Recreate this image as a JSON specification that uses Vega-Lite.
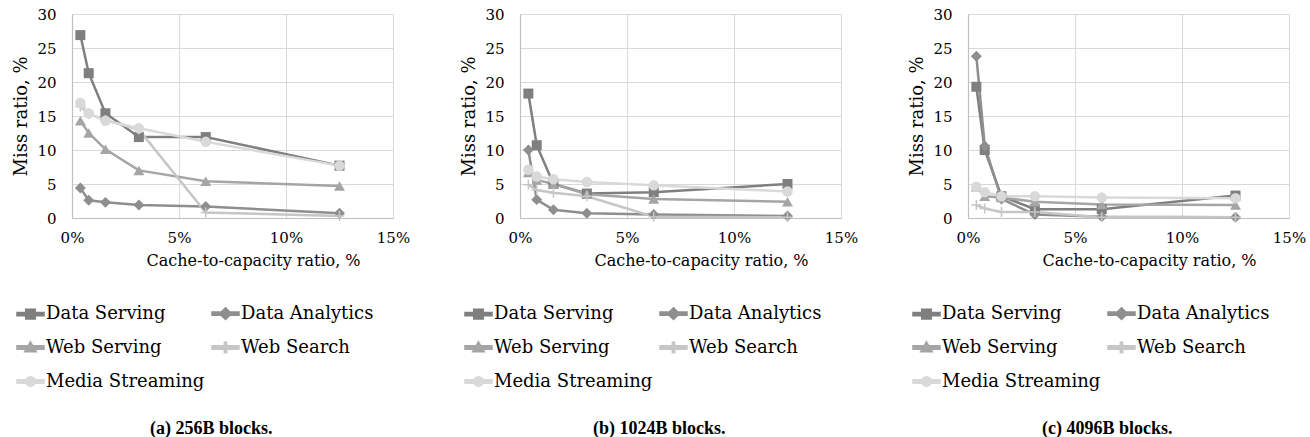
{
  "$schema": "https://vega.github.io/schema/vega-lite/v6.json",
  "background": "white",
  "padding": {"left": 12, "top": 6, "right": 5, "bottom": 2},
  "spacing": 127,
  "bounds": "flush",
  "config": {
    "view": {"stroke": "#d0d0d0", "strokeWidth": 1},
    "axis": {
      "labelFont": "DejaVu Serif", "titleFont": "DejaVu Serif",
      "labelFontSize": 15, "titleFontSize": 18, "titleFontWeight": "normal",
      "labelColor": "#000000", "titleColor": "#000000",
      "ticks": false, "domainColor": "#bfbfbf", "domainWidth": 1.2,
      "gridColor": "#d9d9d9", "gridWidth": 1, "labelFlush": false, "labelOverlap": false
    },
    "title": {"font": "Liberation Serif", "fontSize": 18, "fontWeight": "bold", "color": "#000000"},
    "legend": {
      "orient": "none", "legendX": -56, "legendY": 285, "columns": 2, "direction": "horizontal",
      "labelFont": "DejaVu Serif", "labelFontSize": 18, "labelColor": "#000000",
      "symbolSize": 676, "symbolOpacity": 1, "symbolStrokeWidth": 0.5, "rowPadding": 9, "columnPadding": 2, "labelOffset": 1, "labelLimit": 0,
      "title": null
    },
    "line": {"strokeWidth": 2.5}
  },
  "data": {"values": [
    {"panel": "a", "series": "Data Serving", "x": 0.390625, "y": 26.9},
    {"panel": "a", "series": "Data Serving", "x": 0.78125, "y": 21.3},
    {"panel": "a", "series": "Data Serving", "x": 1.5625, "y": 15.4},
    {"panel": "a", "series": "Data Serving", "x": 3.125, "y": 11.9},
    {"panel": "a", "series": "Data Serving", "x": 6.25, "y": 11.9},
    {"panel": "a", "series": "Data Serving", "x": 12.5, "y": 7.7},
    {"panel": "a", "series": "Data Analytics", "x": 0.390625, "y": 4.4},
    {"panel": "a", "series": "Data Analytics", "x": 0.78125, "y": 2.6},
    {"panel": "a", "series": "Data Analytics", "x": 1.5625, "y": 2.3},
    {"panel": "a", "series": "Data Analytics", "x": 3.125, "y": 1.9},
    {"panel": "a", "series": "Data Analytics", "x": 6.25, "y": 1.7},
    {"panel": "a", "series": "Data Analytics", "x": 12.5, "y": 0.7},
    {"panel": "a", "series": "Web Serving", "x": 0.390625, "y": 14.3},
    {"panel": "a", "series": "Web Serving", "x": 0.78125, "y": 12.5},
    {"panel": "a", "series": "Web Serving", "x": 1.5625, "y": 10.1},
    {"panel": "a", "series": "Web Serving", "x": 3.125, "y": 7.0},
    {"panel": "a", "series": "Web Serving", "x": 6.25, "y": 5.4},
    {"panel": "a", "series": "Web Serving", "x": 12.5, "y": 4.7},
    {"panel": "a", "series": "Web Search", "x": 0.390625, "y": 16.4},
    {"panel": "a", "series": "Web Search", "x": 0.78125, "y": 15.3},
    {"panel": "a", "series": "Web Search", "x": 1.5625, "y": 14.4},
    {"panel": "a", "series": "Web Search", "x": 3.125, "y": 13.0},
    {"panel": "a", "series": "Web Search", "x": 6.25, "y": 0.8},
    {"panel": "a", "series": "Web Search", "x": 12.5, "y": 0.3},
    {"panel": "a", "series": "Media Streaming", "x": 0.390625, "y": 16.9},
    {"panel": "a", "series": "Media Streaming", "x": 0.78125, "y": 15.4},
    {"panel": "a", "series": "Media Streaming", "x": 1.5625, "y": 14.3},
    {"panel": "a", "series": "Media Streaming", "x": 3.125, "y": 13.2},
    {"panel": "a", "series": "Media Streaming", "x": 6.25, "y": 11.2},
    {"panel": "a", "series": "Media Streaming", "x": 12.5, "y": 7.7},

    {"panel": "b", "series": "Data Serving", "x": 0.390625, "y": 18.3},
    {"panel": "b", "series": "Data Serving", "x": 0.78125, "y": 10.7},
    {"panel": "b", "series": "Data Serving", "x": 1.5625, "y": 5.0},
    {"panel": "b", "series": "Data Serving", "x": 3.125, "y": 3.6},
    {"panel": "b", "series": "Data Serving", "x": 6.25, "y": 3.8},
    {"panel": "b", "series": "Data Serving", "x": 12.5, "y": 5.0},
    {"panel": "b", "series": "Data Analytics", "x": 0.390625, "y": 10.0},
    {"panel": "b", "series": "Data Analytics", "x": 0.78125, "y": 2.7},
    {"panel": "b", "series": "Data Analytics", "x": 1.5625, "y": 1.2},
    {"panel": "b", "series": "Data Analytics", "x": 3.125, "y": 0.7},
    {"panel": "b", "series": "Data Analytics", "x": 6.25, "y": 0.5},
    {"panel": "b", "series": "Data Analytics", "x": 12.5, "y": 0.3},
    {"panel": "b", "series": "Web Serving", "x": 0.390625, "y": 6.7},
    {"panel": "b", "series": "Web Serving", "x": 0.78125, "y": 5.6},
    {"panel": "b", "series": "Web Serving", "x": 1.5625, "y": 5.0},
    {"panel": "b", "series": "Web Serving", "x": 3.125, "y": 3.5},
    {"panel": "b", "series": "Web Serving", "x": 6.25, "y": 2.8},
    {"panel": "b", "series": "Web Serving", "x": 12.5, "y": 2.4},
    {"panel": "b", "series": "Web Search", "x": 0.390625, "y": 4.9},
    {"panel": "b", "series": "Web Search", "x": 0.78125, "y": 4.1},
    {"panel": "b", "series": "Web Search", "x": 1.5625, "y": 3.7},
    {"panel": "b", "series": "Web Search", "x": 3.125, "y": 3.2},
    {"panel": "b", "series": "Web Search", "x": 6.25, "y": 0.2},
    {"panel": "b", "series": "Web Search", "x": 12.5, "y": 0.1},
    {"panel": "b", "series": "Media Streaming", "x": 0.390625, "y": 7.1},
    {"panel": "b", "series": "Media Streaming", "x": 0.78125, "y": 6.1},
    {"panel": "b", "series": "Media Streaming", "x": 1.5625, "y": 5.7},
    {"panel": "b", "series": "Media Streaming", "x": 3.125, "y": 5.3},
    {"panel": "b", "series": "Media Streaming", "x": 6.25, "y": 4.8},
    {"panel": "b", "series": "Media Streaming", "x": 12.5, "y": 3.9},

    {"panel": "c", "series": "Data Serving", "x": 0.390625, "y": 19.3},
    {"panel": "c", "series": "Data Serving", "x": 0.78125, "y": 10.0},
    {"panel": "c", "series": "Data Serving", "x": 1.5625, "y": 3.2},
    {"panel": "c", "series": "Data Serving", "x": 3.125, "y": 1.3},
    {"panel": "c", "series": "Data Serving", "x": 6.25, "y": 1.3},
    {"panel": "c", "series": "Data Serving", "x": 12.5, "y": 3.3},
    {"panel": "c", "series": "Data Analytics", "x": 0.390625, "y": 23.8},
    {"panel": "c", "series": "Data Analytics", "x": 0.78125, "y": 10.6},
    {"panel": "c", "series": "Data Analytics", "x": 1.5625, "y": 2.8},
    {"panel": "c", "series": "Data Analytics", "x": 3.125, "y": 0.5},
    {"panel": "c", "series": "Data Analytics", "x": 6.25, "y": 0.2},
    {"panel": "c", "series": "Data Analytics", "x": 12.5, "y": 0.1},
    {"panel": "c", "series": "Web Serving", "x": 0.390625, "y": 4.6},
    {"panel": "c", "series": "Web Serving", "x": 0.78125, "y": 3.2},
    {"panel": "c", "series": "Web Serving", "x": 1.5625, "y": 3.0},
    {"panel": "c", "series": "Web Serving", "x": 3.125, "y": 2.4},
    {"panel": "c", "series": "Web Serving", "x": 6.25, "y": 2.0},
    {"panel": "c", "series": "Web Serving", "x": 12.5, "y": 1.9},
    {"panel": "c", "series": "Web Search", "x": 0.390625, "y": 1.9},
    {"panel": "c", "series": "Web Search", "x": 0.78125, "y": 1.4},
    {"panel": "c", "series": "Web Search", "x": 1.5625, "y": 0.9},
    {"panel": "c", "series": "Web Search", "x": 3.125, "y": 0.9},
    {"panel": "c", "series": "Web Search", "x": 6.25, "y": 0.1},
    {"panel": "c", "series": "Web Search", "x": 12.5, "y": 0.1},
    {"panel": "c", "series": "Media Streaming", "x": 0.390625, "y": 4.6},
    {"panel": "c", "series": "Media Streaming", "x": 0.78125, "y": 3.8},
    {"panel": "c", "series": "Media Streaming", "x": 1.5625, "y": 3.2},
    {"panel": "c", "series": "Media Streaming", "x": 3.125, "y": 3.2},
    {"panel": "c", "series": "Media Streaming", "x": 6.25, "y": 3.0},
    {"panel": "c", "series": "Media Streaming", "x": 12.5, "y": 2.9}
  ]},
  "resolve": {
    "scale": {"color": "independent", "shape": "independent"},
    "legend": {"color": "independent", "shape": "independent"}
  },
  "hconcat": [
    {
      "width": 321, "height": 204,
      "transform": [{"filter": "datum.panel === 'a'"}],
      "title": {"text": "(a) 256B blocks.", "orient": "bottom", "frame": "bounds", "anchor": "middle", "offset": 29},
      "encoding": {
        "x": {"field": "x", "type": "quantitative", "scale": {"domain": [0, 15], "nice": false},
              "axis": {"values": [0, 5, 10, 15], "labelExpr": "datum.value + '%'", "title": "Cache-to-capacity ratio, %", "titleFontSize": 16, "labelPadding": 12, "titlePadding": 7, "titleX": 181}},
        "y": {"field": "y", "type": "quantitative", "scale": {"domain": [0, 30], "nice": false},
              "axis": {"values": [0, 5, 10, 15, 20, 25, 30], "title": "Miss ratio, %", "labelPadding": 16, "titlePadding": 6}},
        "color": {"field": "series", "type": "nominal",
          "scale": {"domain": ["Data Serving", "Data Analytics", "Web Serving", "Web Search", "Media Streaming"], "range": ["#7f7f7f", "#8e8e8e", "#a5a5a5", "#c6c6c6", "#d9d9d9"]}}
      },
      "layer": [
        {"mark": {"type": "line"}},
        {"mark": {"type": "point", "filled": true, "opacity": 1, "size": 0},
         "encoding": {
           "shape": {"field": "series", "type": "nominal",
             "scale": {"domain": ["Data Serving", "Data Analytics", "Web Serving", "Web Search", "Media Streaming"],
               "range": ["M-1,-0.09H1V0.09H-1ZM-0.33,-0.33H0.33V0.33H-0.33Z", "M-1,-0.09H1V0.09H-1ZM0,-0.4L0.4,0L0,0.4L-0.4,0Z", "M-1,-0.09H1V0.09H-1ZM0,-0.36L0.38,0.28L-0.38,0.28Z", "M-1,-0.09H1V0.09H-1ZM-0.05,-0.36H0.05V0.36H-0.05Z", "M-1,-0.09H1V0.09H-1ZM-0.33,0A0.33,0.33,0,1,1,0.33,0A0.33,0.33,0,1,1,-0.33,0Z"]}}
         }},
        {"transform": [{"filter": "datum.series === 'Data Serving'"}], "mark": {"type": "point", "shape": "square", "filled": true, "opacity": 1, "size": 100}},
        {"transform": [{"filter": "datum.series === 'Data Analytics'"}], "mark": {"type": "point", "shape": "diamond", "filled": true, "opacity": 1, "size": 120}},
        {"transform": [{"filter": "datum.series === 'Web Serving'"}], "mark": {"type": "point", "shape": "triangle-up", "filled": true, "opacity": 1, "size": 120}},
        {"transform": [{"filter": "datum.series === 'Web Search'"}], "mark": {"type": "point", "shape": "M-1,0H1M0,-1V1", "filled": false, "opacity": 1, "size": 100, "strokeWidth": 1.5}},
        {"transform": [{"filter": "datum.series === 'Media Streaming'"}], "mark": {"type": "point", "shape": "circle", "filled": true, "opacity": 1, "size": 110}}
      ]
    },
    {
      "width": 321, "height": 204,
      "transform": [{"filter": "datum.panel === 'b'"}],
      "title": {"text": "(b) 1024B blocks.", "orient": "bottom", "frame": "bounds", "anchor": "middle", "offset": 29},
      "encoding": {
        "x": {"field": "x", "type": "quantitative", "scale": {"domain": [0, 15], "nice": false},
              "axis": {"values": [0, 5, 10, 15], "labelExpr": "datum.value + '%'", "title": "Cache-to-capacity ratio, %", "titleFontSize": 16, "labelPadding": 12, "titlePadding": 7, "titleX": 181}},
        "y": {"field": "y", "type": "quantitative", "scale": {"domain": [0, 30], "nice": false},
              "axis": {"values": [0, 5, 10, 15, 20, 25, 30], "title": "Miss ratio, %", "labelPadding": 16, "titlePadding": 6}},
        "color": {"field": "series", "type": "nominal",
          "scale": {"domain": ["Data Serving", "Data Analytics", "Web Serving", "Web Search", "Media Streaming"], "range": ["#7f7f7f", "#8e8e8e", "#a5a5a5", "#c6c6c6", "#d9d9d9"]}}
      },
      "layer": [
        {"mark": {"type": "line"}},
        {"mark": {"type": "point", "filled": true, "opacity": 1, "size": 0},
         "encoding": {
           "shape": {"field": "series", "type": "nominal",
             "scale": {"domain": ["Data Serving", "Data Analytics", "Web Serving", "Web Search", "Media Streaming"],
               "range": ["M-1,-0.09H1V0.09H-1ZM-0.33,-0.33H0.33V0.33H-0.33Z", "M-1,-0.09H1V0.09H-1ZM0,-0.4L0.4,0L0,0.4L-0.4,0Z", "M-1,-0.09H1V0.09H-1ZM0,-0.36L0.38,0.28L-0.38,0.28Z", "M-1,-0.09H1V0.09H-1ZM-0.05,-0.36H0.05V0.36H-0.05Z", "M-1,-0.09H1V0.09H-1ZM-0.33,0A0.33,0.33,0,1,1,0.33,0A0.33,0.33,0,1,1,-0.33,0Z"]}}
         }},
        {"transform": [{"filter": "datum.series === 'Data Serving'"}], "mark": {"type": "point", "shape": "square", "filled": true, "opacity": 1, "size": 100}},
        {"transform": [{"filter": "datum.series === 'Data Analytics'"}], "mark": {"type": "point", "shape": "diamond", "filled": true, "opacity": 1, "size": 120}},
        {"transform": [{"filter": "datum.series === 'Web Serving'"}], "mark": {"type": "point", "shape": "triangle-up", "filled": true, "opacity": 1, "size": 120}},
        {"transform": [{"filter": "datum.series === 'Web Search'"}], "mark": {"type": "point", "shape": "M-1,0H1M0,-1V1", "filled": false, "opacity": 1, "size": 100, "strokeWidth": 1.5}},
        {"transform": [{"filter": "datum.series === 'Media Streaming'"}], "mark": {"type": "point", "shape": "circle", "filled": true, "opacity": 1, "size": 110}}
      ]
    },
    {
      "width": 321, "height": 204,
      "transform": [{"filter": "datum.panel === 'c'"}],
      "title": {"text": "(c) 4096B blocks.", "orient": "bottom", "frame": "bounds", "anchor": "middle", "offset": 29},
      "encoding": {
        "x": {"field": "x", "type": "quantitative", "scale": {"domain": [0, 15], "nice": false},
              "axis": {"values": [0, 5, 10, 15], "labelExpr": "datum.value + '%'", "title": "Cache-to-capacity ratio, %", "titleFontSize": 16, "labelPadding": 12, "titlePadding": 7, "titleX": 181}},
        "y": {"field": "y", "type": "quantitative", "scale": {"domain": [0, 30], "nice": false},
              "axis": {"values": [0, 5, 10, 15, 20, 25, 30], "title": "Miss ratio, %", "labelPadding": 16, "titlePadding": 6}},
        "color": {"field": "series", "type": "nominal",
          "scale": {"domain": ["Data Serving", "Data Analytics", "Web Serving", "Web Search", "Media Streaming"], "range": ["#7f7f7f", "#8e8e8e", "#a5a5a5", "#c6c6c6", "#d9d9d9"]}}
      },
      "layer": [
        {"mark": {"type": "line"}},
        {"mark": {"type": "point", "filled": true, "opacity": 1, "size": 0},
         "encoding": {
           "shape": {"field": "series", "type": "nominal",
             "scale": {"domain": ["Data Serving", "Data Analytics", "Web Serving", "Web Search", "Media Streaming"],
               "range": ["M-1,-0.09H1V0.09H-1ZM-0.33,-0.33H0.33V0.33H-0.33Z", "M-1,-0.09H1V0.09H-1ZM0,-0.4L0.4,0L0,0.4L-0.4,0Z", "M-1,-0.09H1V0.09H-1ZM0,-0.36L0.38,0.28L-0.38,0.28Z", "M-1,-0.09H1V0.09H-1ZM-0.05,-0.36H0.05V0.36H-0.05Z", "M-1,-0.09H1V0.09H-1ZM-0.33,0A0.33,0.33,0,1,1,0.33,0A0.33,0.33,0,1,1,-0.33,0Z"]}}
         }},
        {"transform": [{"filter": "datum.series === 'Data Serving'"}], "mark": {"type": "point", "shape": "square", "filled": true, "opacity": 1, "size": 100}},
        {"transform": [{"filter": "datum.series === 'Data Analytics'"}], "mark": {"type": "point", "shape": "diamond", "filled": true, "opacity": 1, "size": 120}},
        {"transform": [{"filter": "datum.series === 'Web Serving'"}], "mark": {"type": "point", "shape": "triangle-up", "filled": true, "opacity": 1, "size": 120}},
        {"transform": [{"filter": "datum.series === 'Web Search'"}], "mark": {"type": "point", "shape": "M-1,0H1M0,-1V1", "filled": false, "opacity": 1, "size": 100, "strokeWidth": 1.5}},
        {"transform": [{"filter": "datum.series === 'Media Streaming'"}], "mark": {"type": "point", "shape": "circle", "filled": true, "opacity": 1, "size": 110}}
      ]
    }
  ]
}
